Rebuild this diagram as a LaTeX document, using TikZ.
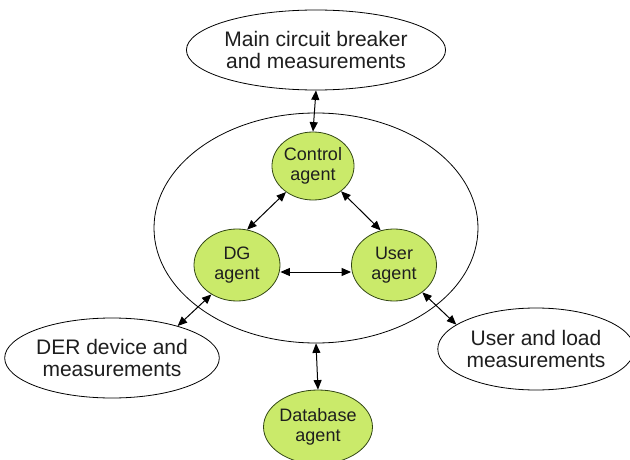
\documentclass[tikz,border=0pt]{standalone}
\usepackage{fontspec}
\setmainfont{Liberation Sans}
\usetikzlibrary{shapes.geometric,arrows.meta}
\definecolor{agentfill}{RGB}{202,234,106}
\definecolor{agentline}{RGB}{50,70,20}
\definecolor{txt}{RGB}{30,30,30}
\tikzset{
  every node/.style={text=txt},
  outerbox/.style={ellipse, draw=black, line width=0.8pt, fill=white, inner sep=0pt,
    align=center, font=\fontsize{21}{22}\selectfont},
  agentbox/.style={ellipse, draw=agentline, line width=0.8pt, fill=agentfill, inner sep=0pt,
    align=center, font=\fontsize{18}{20}\selectfont},
  link/.style={draw=black, line width=1pt, {Triangle[length=9.5pt,width=8pt]}-{Triangle[length=9.5pt,width=8pt]}}
}
\begin{document}
\begin{tikzpicture}[x=1pt,y=-1pt]
  \useasboundingbox (0,0) rectangle (630,460);
  \clip (0,0) rectangle (630,460);

  % enclosing agent platform
  \node[ellipse, draw=black, line width=0.8pt, minimum width=324pt, minimum height=230pt, inner sep=0pt]
    (platform) at (316,228) {};

  % external systems
  \node[outerbox, minimum width=226pt, minimum height=80pt] (breaker) at (316,50)
    {Main circuit breaker\\and measurements};
  \node[outerbox, minimum width=198pt, minimum height=80pt] (der) at (112,358)
    {DER device and\\measurements};
  \node[outerbox, minimum width=188pt, minimum height=82pt] (load) at (536,349)
    {User and load\\measurements};

  % agents
  \node[agentbox, minimum width=82pt, minimum height=68pt] (control) at (313,166) {Control\\agent};
  \node[agentbox, minimum width=86pt, minimum height=72pt] (dg) at (237,265) {DG\\agent};
  \node[agentbox, minimum width=85pt, minimum height=72pt] (user) at (394,265) {User\\agent};
  \node[agentbox, minimum width=90pt, minimum height=74pt] (db) at (318,427) {Database\\agent};

  % communication links
  \draw[link] (breaker.south) -- (control.north);
  \draw[link] (control.-136) -- (dg.74);
  \draw[link] (control.-42) -- (user.111);
  \draw[link] ([yshift=-7pt]dg.east) -- ([yshift=-7pt]user.west);
  \draw[link] (dg.-131) -- (der.26);
  \draw[link] (user.-44) -- (load.163);
  \draw[link] (platform.south) -- (db.north);
\end{tikzpicture}
\end{document}
